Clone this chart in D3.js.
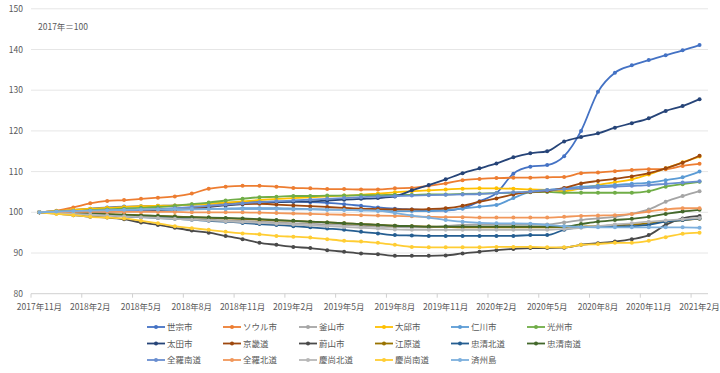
<!DOCTYPE html>
<html>
<head>
  <meta charset="UTF-8">
  <style>
    body { margin: 0; background: #fff; }
    svg { display: block; font-family: "Noto Sans CJK JP", "Noto Sans", sans-serif; }
    .axis text { fill: #595959; font-size: 8.5px; }
    .legend text { fill: #595959; font-size: 8.5px; }
  </style>
</head>
<body>
<svg></svg>
<script src="https://d3js.org/d3.v7.min.js"></script>

<script>

let width = 720, height = 373;

// month categories (2017/11 .. 2021/2)
const months = [
  "2017年11月","2017年12月","2018年1月","2018年2月","2018年3月","2018年4月","2018年5月","2018年6月",
  "2018年7月","2018年8月","2018年9月","2018年10月","2018年11月","2018年12月","2019年1月","2019年2月",
  "2019年3月","2019年4月","2019年5月","2019年6月","2019年7月","2019年8月","2019年9月","2019年10月",
  "2019年11月","2019年12月","2020年1月","2020年2月","2020年3月","2020年4月","2020年5月","2020年6月",
  "2020年7月","2020年8月","2020年9月","2020年10月","2020年11月","2020年12月","2021年1月","2021年2月"
];

const yTicks = [80, 90, 100, 110, 120, 130, 140, 150];

const seriesNames = [
  "世宗市","ソウル市","釜山市","大邱市","仁川市","光州市",
  "太田市","京畿道","蔚山市","江原道","忠清北道","忠清南道",
  "全羅南道","全羅北道","慶尚北道","慶尚南道","済州島"
];

const colors = [
  "#4472C4","#ED7D31","#A5A5A5","#FFC000","#5B9BD5","#70AD47",
  "#264478","#9E480E","#4a4a4a","#997300","#255E91","#43682B",
  "#698ED0","#F1975A","#B7B7B7","#FFCD33","#7CAFDD"
];

// values (2017年 = 100)
const sejong = [100,100.3,100.6,100.9,101.2,101.4,101.5,101.6,101.7,101.9,
  102.1,102.3,102.5,102.6,102.6,102.6,102.5,102.3,102.0,101.6,
  101.2,100.9,100.7,100.5,100.4,101.0,102.7,104.7,109.5,111.2,
  111.6,113.8,120.0,129.6,134.3,136.1,137.4,138.6,139.8,141.1];
const seoul = [100,100.4,101.2,102.2,102.8,103.0,103.3,103.6,103.9,104.6,
  105.8,106.3,106.5,106.5,106.3,106.0,105.9,105.7,105.7,105.6,
  105.6,105.9,106.0,106.5,107.1,107.9,108.2,108.4,108.5,108.5,
  108.6,108.7,109.6,109.8,110.1,110.4,110.6,110.6,111.4,111.9];
const busan = [100,99.9,99.8,99.6,99.4,99.2,99.0,98.8,98.6,98.4,
  98.2,98.0,97.9,97.7,97.5,97.3,97.2,97.0,96.9,96.7,
  96.5,96.4,96.3,96.3,96.6,96.9,97.0,97.0,97.0,97.0,
  97.0,97.5,98.1,98.5,98.9,99.6,100.7,102.6,104.0,105.2];
const daegu = [100,100.3,100.6,100.9,101.1,101.3,101.5,101.6,101.7,101.9,
  102.1,102.4,102.7,103.0,103.3,103.5,103.7,103.9,104.1,104.3,
  104.6,104.9,105.2,105.4,105.6,105.8,105.9,105.9,105.8,105.6,
  105.5,105.2,105.9,106.7,107.4,108.1,109.3,110.8,112.3,113.7];
const incheon = [100,100.1,100.2,100.3,100.4,100.5,100.5,100.6,100.6,100.7,
  100.8,100.9,101.0,101.0,101.0,100.9,100.8,100.7,100.6,100.5,
  100.4,100.3,100.3,100.3,100.5,100.9,101.4,101.8,103.5,105.0,
  105.5,105.9,106.3,106.5,106.7,107.0,107.3,107.9,108.6,110.0];
const gwangju = [100,100.2,100.3,100.5,100.7,100.9,101.1,101.3,101.6,102.0,
  102.4,102.9,103.3,103.7,103.8,104.0,104.0,104.1,104.1,104.2,
  104.2,104.3,104.3,104.4,104.4,104.5,104.6,104.7,104.8,104.9,
  105.0,104.8,104.8,104.8,104.8,104.8,105.2,106.3,106.9,107.5];
const daejeon = [100,100,100,100.1,100.2,100.3,100.4,100.6,100.8,101.0,
  101.3,101.7,102.0,102.3,102.5,102.6,102.7,102.9,103.1,103.3,
  103.5,103.9,105.4,106.7,108.1,109.6,110.8,112.0,113.5,114.5,
  115.0,117.4,118.5,119.4,120.8,121.9,123.1,124.9,126.1,127.8];
const gyeonggi = [100,100.1,100.2,100.3,100.4,100.5,100.6,100.7,100.9,101.1,
  101.5,101.9,102.1,102.1,101.9,101.7,101.5,101.3,101.1,100.9,
  100.8,100.7,100.7,100.8,101.0,101.6,102.6,103.4,104.4,105.0,
  105.2,106.0,107.1,107.7,108.2,108.8,109.6,110.8,112.2,113.9];
const ulsan = [100,99.7,99.3,98.9,98.7,98.3,97.5,96.9,96.2,95.5,
  95.0,94.2,93.4,92.5,92.0,91.5,91.2,90.7,90.3,89.9,
  89.7,89.3,89.3,89.3,89.4,89.9,90.3,90.7,91.0,91.2,
  91.2,91.3,92.0,92.4,92.8,93.4,94.4,96.9,98.5,99.1];
const gangwon = [100,99.9,99.8,99.7,99.6,99.4,99.3,99.1,99.0,98.8,
  98.7,98.5,98.4,98.2,98.0,97.9,97.7,97.5,97.3,97.1,
  96.9,96.7,96.6,96.5,96.4,96.3,96.3,96.3,96.3,96.3,
  96.3,96.4,96.5,96.6,96.8,97.0,97.3,97.7,98.1,98.4];
const chungbuk = [100,99.8,99.7,99.5,99.3,99.0,98.8,98.6,98.4,98.2,
  97.9,97.7,97.4,97.1,96.9,96.6,96.3,96.0,95.7,95.2,
  94.8,94.4,94.3,94.2,94.2,94.2,94.2,94.2,94.2,94.4,
  94.4,95.7,96.3,96.5,96.5,96.6,96.9,97.7,98.1,98.5];
const chungnam = [100,99.9,99.8,99.7,99.5,99.4,99.2,99.1,98.9,98.8,
  98.7,98.6,98.5,98.3,98.1,97.9,97.7,97.5,97.3,97.1,
  96.9,96.7,96.6,96.5,96.5,96.5,96.5,96.5,96.5,96.5,
  96.5,96.5,97.1,97.7,98.1,98.4,98.9,99.6,100.2,100.6];
const jeonnam = [100,100.1,100.2,100.3,100.4,100.5,100.6,100.8,101.0,101.3,
  101.6,101.9,102.2,102.5,102.7,102.9,103.1,103.3,103.5,103.7,
  103.9,104.0,104.1,104.2,104.3,104.4,104.5,104.7,104.9,105.1,
  105.4,105.7,105.9,106.1,106.3,106.5,106.7,107.0,107.3,107.6];
const jeonbuk = [100,100,100.1,100.1,100.1,100.1,100.1,100.1,100.1,100,
  100,100,100,99.9,99.8,99.7,99.6,99.5,99.4,99.3,
  99.2,99.1,99.0,98.9,98.8,98.8,98.7,98.7,98.7,98.7,
  98.7,98.9,99.1,99.2,99.3,99.6,100.2,100.7,101.0,101.0];
const gyeongbuk = [100,99.8,99.6,99.4,99.2,99.0,98.8,98.6,98.4,98.2,
  98.0,97.8,97.6,97.4,97.2,97.0,96.8,96.6,96.4,96.2,
  96.0,95.8,95.7,95.7,95.7,95.7,95.7,95.7,95.7,95.7,
  95.7,95.9,96.2,96.6,97.0,97.3,97.7,98.0,98.3,98.6];
const gyeongnam = [100,99.6,99.3,98.9,98.7,98.5,97.9,97.3,96.6,96.1,
  95.7,95.2,94.8,94.6,94.2,94.0,93.8,93.4,93.0,92.8,
  92.5,92.0,91.5,91.4,91.4,91.4,91.4,91.5,91.5,91.5,
  91.4,91.4,92.0,92.2,92.5,92.5,93.0,93.9,94.7,95.0];
const jeju = [100,100.2,100.3,100.4,100.5,100.6,100.7,100.7,100.8,100.8,
  100.8,100.8,100.8,100.8,100.8,100.7,100.7,100.6,100.6,100.5,
  100.4,99.8,99.2,98.7,98.1,97.7,97.4,97.3,97.3,97.2,
  96.9,96.6,96.4,96.3,96.3,96.3,96.3,96.3,96.3,96.2];

const seriesValues = [
  sejong, seoul, busan, daegu, incheon, gwangju,
  daejeon, gyeonggi, ulsan, gangwon, chungbuk, chungnam,
  jeonnam, jeonbuk, gyeongbuk, gyeongnam, jeju
];

let svg = d3.select("svg")
    .attr("width", width)
    .attr("height", height)
    .attr("viewBox", "0 0 " + width + " " + height);

let x = d3.scaleBand()
    .domain(months)
    .range([31, 708]);

let y = d3.scaleLinear()
    .domain([80, 150])
    .range([293.7, 8.8]);

// gridlines
svg.append("g")
    .selectAll("line")
    .data(yTicks)
    .enter()
    .append("line")
    .attr("x1", 31)
    .attr("x2", 708)
    .attr("y1", d => y(d))
    .attr("y2", d => y(d))
    .attr("stroke", d => d == 80 ? "#d0d0d0" : "#e6e6e6")
    .attr("stroke-width", 1);

// y labels
svg.append("g")
    .attr("class", "axis")
    .selectAll("text")
    .data(yTicks)
    .enter()
    .append("text")
    .attr("x", 23)
    .attr("y", d => y(d) + 3)
    .attr("text-anchor", "end")
    .text(d => d);

// x ticks at every third category boundary
let tickMonths = months.filter((m, i) => i % 3 == 0);

svg.append("g")
    .selectAll("line")
    .data(tickMonths)
    .enter()
    .append("line")
    .attr("x1", d => x(d))
    .attr("x2", d => x(d))
    .attr("y1", y(80))
    .attr("y2", y(80) + 4)
    .attr("stroke", "#d0d0d0");

svg.append("g")
    .attr("class", "axis")
    .selectAll("text")
    .data(tickMonths)
    .enter()
    .append("text")
    .attr("x", d => x(d) + x.bandwidth() / 2)
    .attr("y", 310)
    .attr("text-anchor", "middle")
    .text(d => d);

svg.append("text")
    .attr("x", 38)
    .attr("y", 30)
    .attr("fill", "#595959")
    .style("font-size", "8.5px")
    .text("2017年＝100");

// lines
let line = d3.line()
    .x((d, i) => x(months[i]) + x.bandwidth() / 2)
    .y(d => y(d))
    .curve(d3.curveMonotoneX);

let series = svg.append("g")
    .selectAll("g")
    .data(seriesValues)
    .enter()
    .append("g");

series.append("path")
    .attr("d", d => line(d))
    .attr("fill", "none")
    .attr("stroke", (d, i) => colors[i])
    .attr("stroke-width", 1.8);

series.each(function(vals, k) {
    d3.select(this).selectAll("circle")
        .data(vals)
        .enter()
        .append("circle")
        .attr("cx", (d, i) => x(months[i]) + x.bandwidth() / 2)
        .attr("cy", d => y(d))
        .attr("r", 2)
        .attr("fill", colors[k]);
});

// legend
let legend = svg.append("g")
    .attr("class", "legend")
    .selectAll("g")
    .data(seriesNames)
    .enter()
    .append("g")
    .attr("transform", (d, i) => "translate(" + (147 + (i % 6) * 76) + "," + (327 + Math.floor(i / 6) * 16.5) + ")");

legend.append("line")
    .attr("x1", 0)
    .attr("x2", 18)
    .attr("stroke", (d, i) => colors[i])
    .attr("stroke-width", 1.8);

legend.append("circle")
    .attr("cx", 9)
    .attr("r", 2)
    .attr("fill", (d, i) => colors[i]);

legend.append("text")
    .attr("x", 20)
    .attr("y", 3)
    .text(d => d);

</script>

</body>
</html>
